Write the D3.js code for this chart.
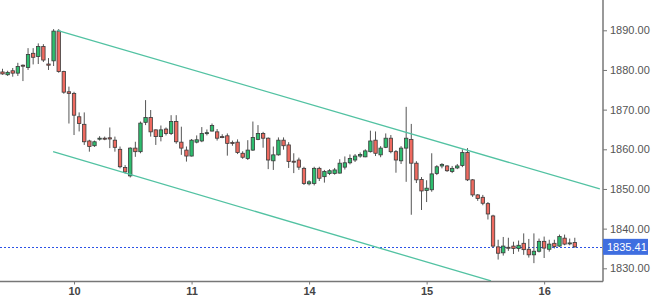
<!DOCTYPE html>
<html>
<head>
<meta charset="utf-8">
<script src="https://cdn.jsdelivr.net/npm/d3@7"></script>
<style>
  body { margin: 0; background: #fff; }
  svg { display: block; font-family: "Liberation Sans", Arial, sans-serif; }
</style>
</head>
<body>
<div id="chart"></div>
<script>
// hourly candles, index 0..112
var opens = [1879.5,1878.8,1879.8,1879.2,1881.2,1880.6,1884.2,1883.4,1885.9,1881.5,
  1882.3,1889.8,1879.6,1874.5,1874.1,1868.2,1866.3,1862.1,1860.9,1862.6,
  1862.8,1862.9,1862.3,1860.0,1855.4,1853.3,1860.3,1859.4,1866.8,1868.0,
  1864.9,1863.2,1865.1,1864.0,1867.0,1861.8,1859.8,1858.3,1861.8,1862.1,
  1864.0,1864.6,1864.4,1863.2,1863.4,1861.7,1861.8,1859.0,1857.7,1859.8,
  1862.5,1864.0,1862.8,1857.1,1858.6,1862.3,1861.1,1857.0,1857.3,1855.2,
  1851.3,1851.4,1855.2,1853.1,1853.9,1853.9,1854.0,1855.5,1856.6,1857.3,
  1858.3,1858.1,1859.4,1862.3,1858.6,1860.5,1862.8,1859.4,1857.1,1860.3,
  1862.5,1856.5,1852.4,1849.6,1849.8,1853.9,1855.8,1855.8,1854.4,1855.3,
  1855.9,1859.2,1852.3,1848.5,1847.9,1846.3,1843.2,1835.4,1833.9,1835.3,
  1835.6,1835.0,1836.3,1834.8,1833.4,1834.3,1836.8,1834.8,1836.3,1835.6,
  1837.6,1836.2,1836.5];
var highs = [1880.3,1879.8,1880.5,1881.8,1881.4,1885.5,1885.5,1886.7,1886.5,1883.0,
  1890.3,1890.3,1879.8,1875.8,1874.5,1869.3,1869.3,1862.4,1862.2,1863.3,
  1863.2,1865.5,1863.2,1860.7,1856.0,1860.5,1861.9,1867.0,1872.4,1869.9,
  1865.0,1866.0,1865.5,1868.6,1868.6,1865.7,1860.7,1862.6,1863.5,1865.6,
  1865.0,1866.5,1865.1,1863.8,1864.0,1862.2,1862.5,1859.5,1862.3,1867.0,
  1866.1,1864.4,1863.0,1860.7,1863.0,1863.0,1861.8,1859.0,1857.9,1855.6,
  1852.2,1855.6,1855.6,1854.8,1855.0,1855.3,1857.5,1858.2,1858.7,1858.8,
  1859.2,1860.0,1864.7,1864.5,1860.8,1864.0,1863.6,1859.8,1860.8,1870.7,
  1866.4,1857.0,1853.0,1852.2,1859.0,1856.0,1856.5,1856.0,1855.8,1856.3,
  1860.0,1860.3,1852.5,1848.7,1848.5,1846.7,1843.5,1837.2,1837.9,1837.7,
  1836.7,1837.0,1838.8,1837.4,1838.8,1837.5,1838.0,1837.2,1837.2,1838.5,
  1838.5,1837.5,1837.7];
var lows = [1878.8,1878.5,1878.3,1878.5,1877.2,1880.0,1881.4,1881.5,1882.0,1880.0,
  1881.0,1879.3,1874.0,1866.5,1863.6,1864.5,1861.1,1859.4,1860.6,1862.2,
  1862.3,1860.3,1859.4,1855.2,1853.9,1852.9,1858.1,1859.0,1866.1,1863.2,
  1861.1,1862.0,1863.5,1863.6,1861.4,1858.6,1856.9,1858.2,1861.5,1861.8,
  1863.5,1864.5,1862.2,1862.8,1858.4,1860.9,1858.8,1857.6,1857.3,1859.6,
  1862.3,1860.4,1855.0,1854.8,1858.4,1859.9,1855.3,1854.0,1854.8,1851.0,
  1850.9,1850.9,1852.0,1851.6,1853.5,1853.6,1853.9,1854.9,1856.2,1856.8,
  1857.9,1858.0,1859.2,1858.3,1858.0,1860.3,1859.0,1854.1,1856.3,1851.8,
  1843.5,1851.5,1844.7,1846.7,1849.3,1853.5,1855.2,1854.3,1854.0,1855.0,
  1855.5,1852.0,1848.0,1847.0,1845.9,1842.3,1835.2,1832.2,1833.2,1834.4,
  1833.6,1834.2,1833.4,1832.7,1831.3,1834.0,1832.6,1834.2,1835.0,1835.4,
  1835.8,1835.8,1835.2];
var closes = [1879.0,1879.4,1879.2,1880.9,1881.0,1883.9,1883.2,1885.9,1882.5,1881.2,
  1889.8,1879.6,1874.4,1874.1,1868.6,1866.5,1861.9,1860.7,1861.9,1862.8,
  1862.6,1862.6,1860.5,1855.6,1854.3,1860.3,1859.4,1866.6,1868.0,1864.4,
  1863.2,1864.9,1864.0,1867.0,1861.9,1860.3,1858.3,1862.3,1862.4,1864.0,
  1864.2,1866.0,1862.8,1863.0,1861.5,1861.5,1859.2,1858.0,1859.8,1863.0,
  1864.0,1862.8,1857.3,1858.6,1862.3,1860.9,1856.9,1856.8,1855.5,1851.4,
  1851.8,1855.2,1852.7,1854.4,1854.6,1854.8,1856.5,1856.6,1857.7,1858.3,
  1858.7,1859.6,1862.1,1859.0,1860.3,1862.8,1859.4,1857.3,1860.3,1862.8,
  1856.5,1852.3,1849.5,1850.2,1853.8,1855.6,1856.2,1854.6,1855.2,1855.8,
  1859.2,1852.3,1848.5,1847.6,1846.4,1843.7,1835.6,1833.8,1835.6,1835.2,
  1835.0,1835.8,1834.7,1833.4,1834.3,1836.8,1835.1,1836.1,1835.5,1838.0,
  1836.1,1836.4,1835.41];

var dayLabels = ["10", "11", "14", "15", "16"];
var dayStarts = [14, 37, 60, 83, 106];
var priceTicks = [1830, 1840, 1850, 1860, 1870, 1880, 1890];
var lastPrice = 1835.41;
// channel lines as [candle index, price]
var channelUpper = [[10.7, 1890.0], [116.9, 1850.0]];
var channelLower = [[9.9, 1859.4], [95.6, 1826.8]];

var width = 651, height = 301;
var plotRight = 603, plotBottom = 281.5;

var x = d3.scaleLinear().domain([0, 112]).range([2.5, 574.8]);
var y = d3.scaleLinear().domain([1830, 1890]).range([268.3, 30.3]);

var svg = d3.select("#chart").append("svg")
  .attr("width", width).attr("height", height);

svg.append("clipPath").attr("id", "plot")
  .append("rect").attr("x", 0).attr("y", 0)
  .attr("width", plotRight).attr("height", plotBottom);

var plot = svg.append("g").attr("clip-path", "url(#plot)");

var candles = d3.range(opens.length).map(function(i) {
  return {i: i, o: opens[i], h: highs[i], l: lows[i], c: closes[i]};
});

// last price dotted line
plot.append("line")
  .attr("x1", 0).attr("x2", plotRight)
  .attr("y1", Math.round(y(lastPrice)) + 0.5).attr("y2", Math.round(y(lastPrice)) + 0.5)
  .attr("stroke", "#2c52e6").attr("stroke-width", 1)
  .attr("stroke-dasharray", "2,2");

// wicks
plot.selectAll("line.wick").data(candles).enter().append("line")
  .attr("class", "wick")
  .attr("x1", function(d) { return x(d.i); })
  .attr("x2", function(d) { return x(d.i); })
  .attr("y1", function(d) { return y(d.h); })
  .attr("y2", function(d) { return y(d.l); })
  .attr("stroke", "#555").attr("stroke-width", 1);

// bodies
var bodyW = 3.4;
plot.selectAll("rect.body").data(candles).enter().append("rect")
  .attr("class", "body")
  .attr("x", function(d) { return x(d.i) - bodyW / 2; })
  .attr("width", bodyW)
  .attr("y", function(d) { return y(Math.max(d.o, d.c)); })
  .attr("height", function(d) { return Math.max(1, Math.abs(y(d.o) - y(d.c))); })
  .attr("fill", function(d) { return d.c >= d.o ? "#2dbd6e" : "#ee6a60"; })
  .attr("stroke", "#3a3a3a").attr("stroke-width", 0.8);

// channel
var line = d3.line()
  .x(function(d) { return x(d[0]); })
  .y(function(d) { return y(d[1]); });
[channelUpper, channelLower].forEach(function(pts) {
  plot.append("path").attr("d", line(pts))
    .attr("fill", "none").attr("stroke", "#52c2a2").attr("stroke-width", 1.3);
});

// right price axis
var yAxis = svg.append("g")
  .attr("transform", "translate(" + plotRight + ",0)")
  .call(d3.axisRight(y).tickValues(priceTicks)
    .tickFormat(d3.format(".2f")).tickSize(4).tickPadding(3));
yAxis.select(".domain").remove();
yAxis.selectAll("line").attr("stroke", "#777");
yAxis.selectAll("text").attr("fill", "#555").attr("font-size", 11)
  .attr("font-family", "Liberation Sans, Arial, sans-serif");

// bottom day axis
var xAxis = svg.append("g")
  .attr("transform", "translate(0," + plotBottom + ")")
  .call(d3.axisBottom(x).tickValues(dayStarts)
    .tickFormat(function(d, i) { return dayLabels[i]; }).tickSize(3).tickPadding(3));
xAxis.select(".domain").remove();
xAxis.selectAll("line").attr("stroke", "#777");
xAxis.selectAll("text").attr("fill", "#444").attr("font-size", 11)
  .attr("font-weight", "bold")
  .attr("font-family", "Liberation Sans, Arial, sans-serif");

svg.append("line")
  .attr("x1", plotRight).attr("x2", plotRight)
  .attr("y1", 0).attr("y2", plotBottom)
  .attr("stroke", "#777").attr("stroke-width", 1.5);
svg.append("line")
  .attr("x1", 0).attr("x2", plotRight)
  .attr("y1", plotBottom).attr("y2", plotBottom)
  .attr("stroke", "#777").attr("stroke-width", 1.5);

// last price tag
svg.append("rect")
  .attr("x", plotRight).attr("y", y(lastPrice) - 8)
  .attr("width", 45).attr("height", 16)
  .attr("fill", "#3f6ee0");
svg.append("text")
  .attr("x", plotRight + 4).attr("y", y(lastPrice) + 4)
  .attr("fill", "#fff").attr("font-size", 11)
  .text(d3.format(".2f")(lastPrice));
</script>
</body>
</html>
